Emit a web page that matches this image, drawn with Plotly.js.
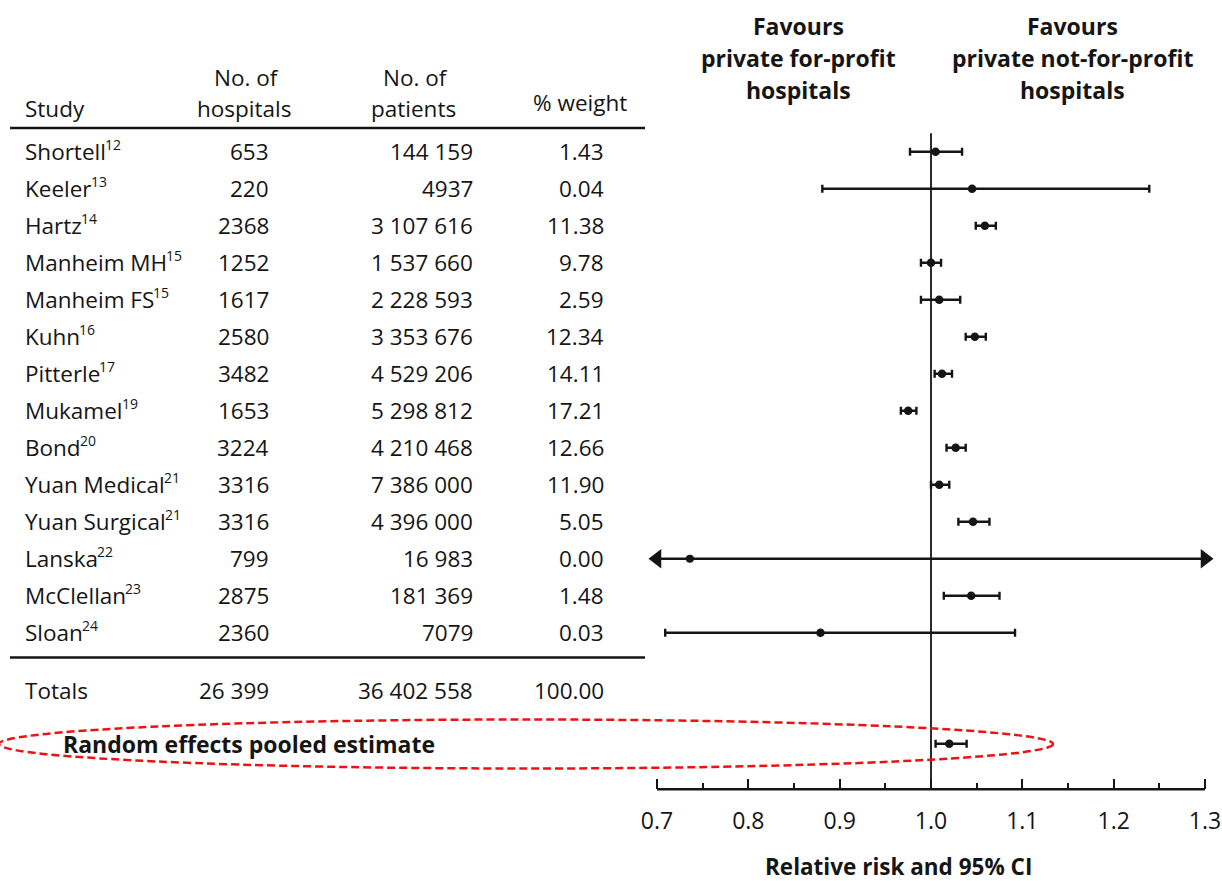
<!DOCTYPE html>
<html><head><meta charset="utf-8">
<script src="https://cdn.plot.ly/plotly-3.0.1.min.js"></script>
<style>html,body{margin:0;padding:0;background:#fff;}#chart{width:1222px;height:881px;}</style>
</head><body><div id="chart"></div>
<script>
// ---------- data ----------
const studies   = ["Shortell","Keeler","Hartz","Manheim MH","Manheim FS","Kuhn","Pitterle","Mukamel","Bond","Yuan Medical","Yuan Surgical","Lanska","McClellan","Sloan"];
const refs      = ["12","13","14","15","15","16","17","19","20","21","21","22","23","24"];
const hospitals = ["653","220","2368","1252","1617","2580","3482","1653","3224","3316","3316","799","2875","2360"];
const patients  = ["144 159","4937","3 107 616","1 537 660","2 228 593","3 353 676","4 529 206","5 298 812","4 210 468","7 386 000","4 396 000","16 983","181 369","7079"];
const weights   = ["1.43","0.04","11.38","9.78","2.59","12.34","14.11","17.21","12.66","11.90","5.05","0.00","1.48","0.03"];
const rr        = [1.005,1.045,1.059,1.000,1.009,1.048,1.012,0.975,1.027,1.009,1.046,0.736,1.044,0.879];
const ciLow     = [0.977,0.881,1.049,0.989,0.989,1.038,1.004,0.967,1.017,1.000,1.030,null,1.014,0.709];  // null = beyond axis (arrow)
const ciHigh    = [1.034,1.239,1.071,1.011,1.032,1.060,1.023,0.984,1.038,1.020,1.064,null,1.075,1.092];
const totals    = ["26 399","36 402 558","100.00"];
const pooledRR  = 1.020, pooledLow = 1.005, pooledHigh = 1.039;
const tickVals  = [0.7,0.8,0.9,1.0,1.1,1.2,1.3];
const tickText  = ["0.7","0.8","0.9","1.0","1.1","1.2","1.3"];
const headerHosp = ["No. of","hospitals"];
const headerPat  = ["No. of","patients"];
const favLeft   = ["Favours","private for-profit","hospitals"];
const favRight  = ["Favours","private not-for-profit","hospitals"];

// ---------- layout helpers ----------
const W = 1222, H = 881;
const FONT = "Open Sans";
const INK = "#151515";
const FS = 22.5, FSB = 23;
const px = v => v / W;
const py = v => 1 - v / H;
const axMin = tickVals[0], axMax = tickVals[tickVals.length-1];
const xr = [0.685, 1.315];
const pxPerUnit = 913.3, x1px = 931;
const xDomain = [px(x1px + (xr[0]-1)*pxPerUnit), px(x1px + (xr[1]-1)*pxPerUnit)];
const yTopPx = 133.2, yBotPx = 789.3, rowH = 37;
const yr = [ -0.5 + (yBotPx - yTopPx)/rowH, -0.5 ];
const yDomain = [py(yBotPx), py(yTopPx)];
const totalsRow = 14.55, pooledRow = 16;

const cv = document.createElement("canvas").getContext("2d");
function measure(text, size, weight) { cv.font = (weight || 400) + " " + size + "px '" + FONT + "'"; return cv.measureText(text).width; }

const idx = studies.map((_, i) => i);
const withCI = idx.filter(i => ciLow[i] !== null);
const arrowRows = idx.filter(i => ciLow[i] === null);

const traces = [];
traces.push({
  type: "scatter", mode: "markers",
  x: withCI.map(i => rr[i]), y: withCI.map(i => i),
  marker: {size: 8.5, color: INK},
  error_x: {type: "data", symmetric: false,
    array: withCI.map(i => ciHigh[i] - rr[i]),
    arrayminus: withCI.map(i => rr[i] - ciLow[i]),
    color: INK, thickness: 2.4, width: 4},
  cliponaxis: false, hoverinfo: "skip", showlegend: false
});
arrowRows.forEach(i => {
  traces.push({
    type: "scatter", mode: "lines+markers",
    x: [axMin, axMax], y: [i, i],
    line: {color: INK, width: 2.4},
    marker: {symbol: ["triangle-left","triangle-right"], size: 17, color: INK},
    cliponaxis: false, hoverinfo: "skip", showlegend: false
  });
  traces.push({
    type: "scatter", mode: "markers", x: [rr[i]], y: [i],
    marker: {size: 8, color: INK}, cliponaxis: false, hoverinfo: "skip", showlegend: false
  });
});
traces.push({
  type: "scatter", mode: "markers",
  x: [pooledRR], y: [pooledRow],
  marker: {size: 8.5, color: INK},
  error_x: {type: "data", symmetric: false, array: [pooledHigh - pooledRR], arrayminus: [pooledRR - pooledLow],
    color: INK, thickness: 2.4, width: 4},
  cliponaxis: false, hoverinfo: "skip", showlegend: false
});

const minorVals = tickVals.slice(0, -1).map((v, k) => +((v + tickVals[k+1]) / 2).toFixed(3));

const ann = [];
const tf = (size, bold) => ({family: FONT, size: size, color: INK, weight: bold ? 700 : 400});
function txt(text, x, y, xanchor, font, yref, yshift) {
  ann.push({text, x, y, xref: "paper", yref: yref || "paper", xanchor, yanchor: "middle", showarrow: false, font,
    align: xanchor === "center" ? "center" : xanchor, yshift: yshift || 0});
}
// table header
txt("Study", px(23), py(108), "left", tf(FS));
txt(headerHosp[0], px(246), py(77), "center", tf(FS));
txt(headerHosp[1], px(244), py(108), "center", tf(FS));
txt(headerPat[0], px(415), py(77), "center", tf(FS));
txt(headerPat[1], px(413), py(108), "center", tf(FS));
txt("% weight", px(580), py(103), "center", tf(FS));
// rows
const nameX = 23;
idx.forEach(i => {
  txt(studies[i], px(nameX), i, "left", tf(FS), "y");
  const w = measure(studies[i], FS, 400);
  txt(refs[i], px(nameX + w - 1), i, "left", tf(14), "y", 7);
  txt(hospitals[i], px(271), i, "right", tf(FS), "y");
  txt(patients[i], px(475), i, "right", tf(FS), "y");
  txt(weights[i], px(606), i, "right", tf(FS), "y");
});
txt("Totals", px(nameX), totalsRow, "left", tf(FS), "y");
txt(totals[0], px(271), totalsRow, "right", tf(FS), "y");
txt(totals[1], px(475), totalsRow, "right", tf(FS), "y");
txt(totals[2], px(606), totalsRow, "right", tf(FS), "y");
txt("Random effects pooled estimate", px(61), pooledRow, "left", tf(FSB, true), "y");
// favours headers
[26, 58, 90].forEach((yy, k) => {
  txt(favLeft[k], px(798), py(yy), "center", tf(FSB, true));
  txt(favRight[k], px(1072), py(yy), "center", tf(FSB, true));
});
// axis title
txt("Relative risk and 95% CI", px(898), py(866), "center", tf(FS, true));

const shapes = [
  {type: "line", xref: "paper", yref: "paper", x0: px(10), x1: px(645), y0: py(128), y1: py(128), line: {color: INK, width: 2.5}},
  {type: "line", xref: "paper", yref: "paper", x0: px(10), x1: px(645), y0: py(657.5), y1: py(657.5), line: {color: INK, width: 2.5}},
  {type: "line", xref: "x", yref: "paper", x0: 1, x1: 1, y0: yDomain[0], y1: yDomain[1], line: {color: "#2a2a2a", width: 2}, layer: "below"},
  {type: "line", xref: "x", yref: "paper", x0: axMin, x1: axMax, y0: yDomain[0], y1: yDomain[0], line: {color: INK, width: 2.5}},
  {type: "circle", xref: "paper", yref: "paper", x0: px(-1), x1: px(1053), y0: py(768.5), y1: py(719.5),
   line: {color: "#ee1111", width: 2.5, dash: "8px,4px"}, layer: "above"}
];

const layout = {
  width: W, height: H,
  margin: {l: 0, r: 0, t: 0, b: 0, pad: 0},
  paper_bgcolor: "#fff", plot_bgcolor: "rgba(0,0,0,0)",
  font: {family: FONT, color: INK},
  showlegend: false,
  xaxis: {
    domain: xDomain, range: xr, showgrid: false, zeroline: false, showline: false,
    tickmode: "array", tickvals: tickVals, ticktext: tickText,
    ticks: "inside", ticklen: 10, tickwidth: 2, tickcolor: INK,
    ticklabelstandoff: 16,
    tickfont: {family: FONT, size: 23, color: INK},
    minor: {tickmode: "array", tickvals: minorVals, ticks: "inside", ticklen: 6, tickwidth: 2, tickcolor: INK, showgrid: false},
    fixedrange: true
  },
  yaxis: {domain: yDomain, range: yr, visible: false, showgrid: false, zeroline: false, fixedrange: true},
  annotations: ann,
  shapes: shapes
};

Plotly.newPlot("chart", traces, layout, {displayModeBar: false, staticPlot: true});
</script>
</body></html>
